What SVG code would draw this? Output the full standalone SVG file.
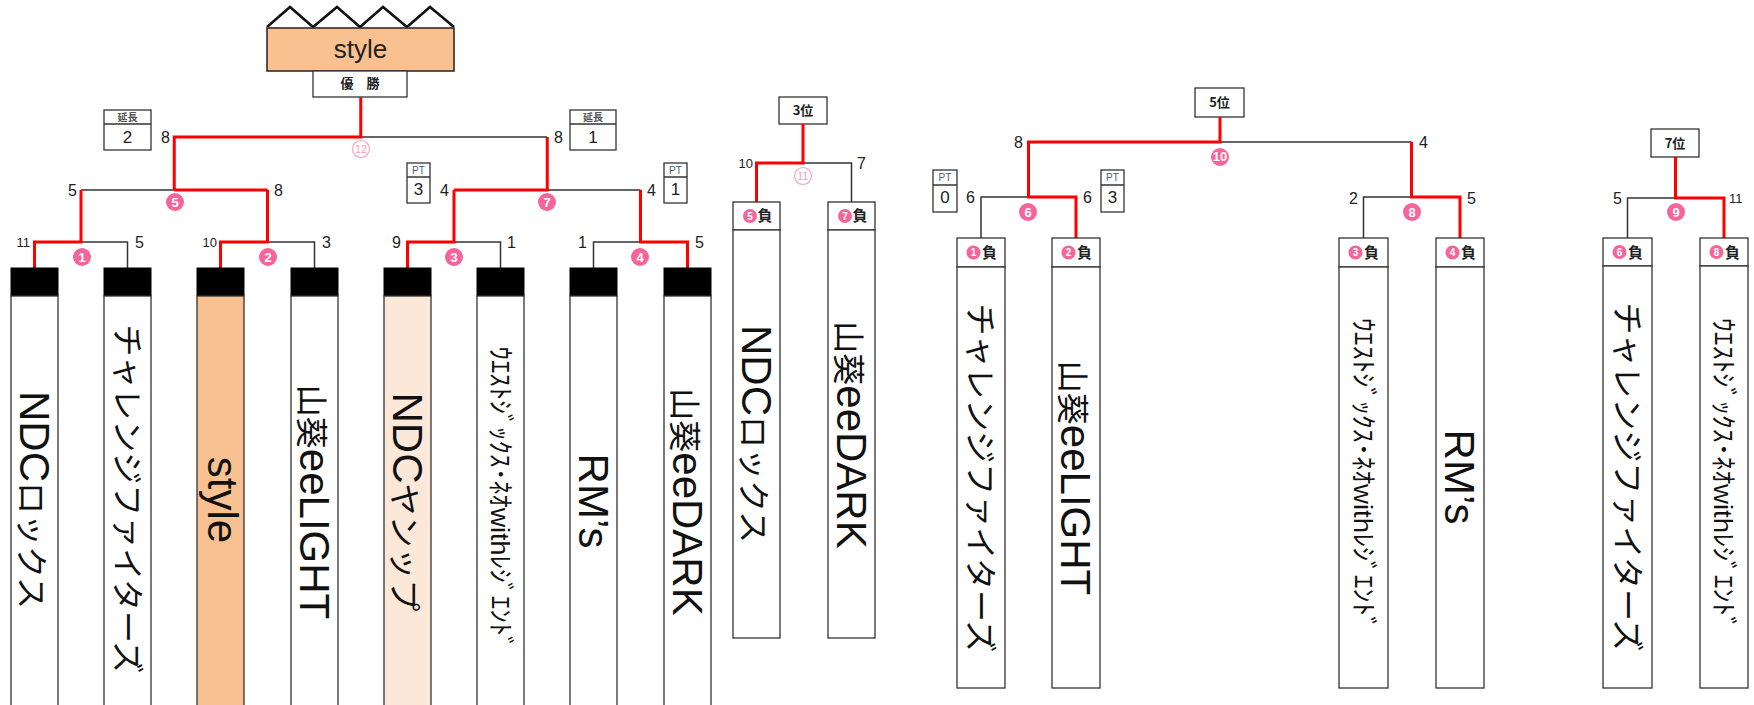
<svg xmlns="http://www.w3.org/2000/svg" width="1754" height="705" viewBox="0 0 1754 705">
<defs>
<style>
.ln{fill:none;stroke:#333;stroke-width:1.5}
.rd{fill:none;stroke:#FF0000;stroke-width:3}
.bx{fill:#fff;stroke:#333;stroke-width:1.3}
.hd{fill:#000;stroke:#000;stroke-width:1}
.sc{font-family:"Liberation Sans",sans-serif;font-size:16px;fill:#222}
.s2{font-size:13px}
.e{text-anchor:end}
.nm{font-family:"Liberation Sans","Noto Sans CJK JP",sans-serif;font-size:42px;fill:#111;text-anchor:middle}
.jp{font-family:"Noto Sans CJK JP",sans-serif;font-size:32px}
.sm{font-family:"Liberation Sans","Noto Sans CJK JP",sans-serif;font-size:26px;fill:#111;text-anchor:middle}
.pk{fill:#F7649A}
.pkt{font-family:"Liberation Sans",sans-serif;font-size:13px;font-weight:bold;fill:#fff;text-anchor:middle}
.pks{font-family:"Liberation Sans",sans-serif;font-size:10px;font-weight:bold;fill:#fff;text-anchor:middle}
.lp{fill:#fff;stroke:#FFA3BF;stroke-width:1.2}
.lpt{font-family:"Liberation Sans",sans-serif;font-size:11px;fill:#FF9DBA;text-anchor:middle}
.hdr{font-family:"Noto Sans CJK JP",sans-serif;font-size:13px;font-weight:bold;fill:#222;text-anchor:middle}
.neg{font-family:"Noto Sans CJK JP",sans-serif;font-size:15px;font-weight:bold;fill:#222;text-anchor:middle}
.tiny{font-family:"Noto Sans CJK JP",sans-serif;font-size:10px;font-weight:bold;fill:#555;text-anchor:middle}
.pt{font-family:"Liberation Sans",sans-serif;font-size:10px;fill:#4A5E7E;text-anchor:middle}
.val{font-family:"Liberation Sans",sans-serif;font-size:17px;fill:#222;text-anchor:middle}
</style>
</defs>
<rect x="0" y="0" width="1754" height="705" fill="#fff"/>

<!-- champion -->
<g id="champion">
<polyline points="267,27 290,7 313,27 337,7 360,27 383,7 407,27 430,7 454,27" fill="none" stroke="#111" stroke-width="2.5"/>
<rect x="267" y="28" width="187" height="43" fill="#F8C18F" stroke="#222" stroke-width="1.5"/>
<text x="360.5" y="58" font-family="Liberation Sans, sans-serif" font-size="26" fill="#222" text-anchor="middle">style</text>
<rect x="313" y="71" width="94" height="26" fill="#fff" stroke="#333" stroke-width="1.3"/>
<text x="360" y="88" class="hdr" font-size="12">優　勝</text>
</g>

<!-- extra boxes -->
<g id="ext-left"><rect class="bx" x="104" y="110" width="47" height="40"/><line class="ln" x1="104" y1="124" x2="151" y2="124"/><text class="tiny" x="127.5" y="121">延長</text><text class="val" x="127.5" y="143">2</text></g>
<g id="ext-right"><rect class="bx" x="570" y="110" width="46" height="40"/><line class="ln" x1="570" y1="124" x2="616" y2="124"/><text class="tiny" x="593" y="121">延長</text><text class="val" x="593" y="143">1</text></g>
<g id="pt-m7-left"><rect class="bx" x="407" y="163" width="23" height="40"/><line class="ln" x1="407" y1="177" x2="430" y2="177"/><text class="pt" x="418.5" y="174">PT</text><text class="val" x="418.5" y="195">3</text></g>
<g id="pt-m7-right"><rect class="bx" x="664" y="163" width="23" height="40"/><line class="ln" x1="664" y1="177" x2="687" y2="177"/><text class="pt" x="675.5" y="174">PT</text><text class="val" x="675.5" y="195">1</text></g>
<g id="pt-m6-left"><rect class="bx" x="933" y="170" width="24" height="42"/><line class="ln" x1="933" y1="185" x2="957" y2="185"/><text class="pt" x="945" y="181">PT</text><text class="val" x="945" y="203">0</text></g>
<g id="pt-m6-right"><rect class="bx" x="1101" y="170" width="23" height="42"/><line class="ln" x1="1101" y1="185" x2="1124" y2="185"/><text class="pt" x="1112.5" y="181">PT</text><text class="val" x="1112.5" y="203">3</text></g>

<!-- place boxes -->
<g id="place3"><rect class="bx" x="779" y="97" width="48" height="27"/><text class="hdr" x="803" y="115">3位</text></g>
<g id="place5"><rect class="bx" x="1195" y="88" width="49" height="29"/><text class="hdr" x="1219.5" y="107">5位</text></g>
<g id="place7"><rect class="bx" x="1651" y="129" width="48" height="28"/><text class="hdr" x="1675" y="148">7位</text></g>

<!-- connectors -->
<g id="connectors">
<path class="ln" d="M81,242 H127.5 V268 M267.5,242 H314.5 V268 M454,242 H500.5 V268 M593.5,268 V242 H640.5 M81,190 H174.25 M547.25,190 H640.5 M360.75,137 H547.25"/>
<path class="rd" d="M34.5,268 V242 H81 V190 M220.5,268 V242 H267.5 V190 M407.5,268 V242 H454 V190 M640.5,190 V242 H687.5 V268 M174.25,190 H267.5 M174.25,190 V137 H360.75 V97 M454,190 H547.25 V137"/>
<path class="ln" d="M803,163 H851.5 V202"/>
<path class="rd" d="M803,124 V163 H756.5 V202"/>
<path class="ln" d="M1220,142 H1411.5 M981,238 V197 H1028.5 M1363.5,238 V197 H1411.5"/>
<path class="rd" d="M1220,117 V142 H1028.5 V197 H1076 V238 M1411.5,142 V197 H1460 V238"/>
<path class="ln" d="M1627.5,238 V198 H1675.5"/>
<path class="rd" d="M1675.5,157 V198 H1724 V238"/>
</g>

<!-- scores -->
<g id="scores">
<text class="sc s2 e" x="30" y="247">11</text>
<text class="sc" x="135" y="248">5</text>
<text class="sc s2 e" x="217" y="247">10</text>
<text class="sc" x="322" y="248">3</text>
<text class="sc e" x="401" y="248">9</text>
<text class="sc" x="507" y="248">1</text>
<text class="sc e" x="587" y="248">1</text>
<text class="sc" x="695" y="248">5</text>
<text class="sc e" x="77" y="196">5</text>
<text class="sc" x="274" y="196">8</text>
<text class="sc e" x="449" y="196">4</text>
<text class="sc" x="647" y="196">4</text>
<text class="sc e" x="170" y="143">8</text>
<text class="sc" x="554" y="143">8</text>
<text class="sc s2 e" x="753" y="168">10</text>
<text class="sc" x="857" y="169">7</text>
<text class="sc e" x="1023" y="148">8</text>
<text class="sc" x="1419" y="148">4</text>
<text class="sc e" x="975" y="203">6</text>
<text class="sc" x="1083" y="203">6</text>
<text class="sc e" x="1358" y="203.5">2</text>
<text class="sc" x="1467" y="203.5">5</text>
<text class="sc e" x="1622" y="203.5">5</text>
<text class="sc s2" x="1729" y="203">11</text>
</g>

<!-- match numbers -->
<g id="match-numbers">
<circle class="pk" cx="82" cy="257" r="9"/><text class="pkt" x="82" y="261.5">1</text>
<circle class="pk" cx="268" cy="257" r="9"/><text class="pkt" x="268" y="261.5">2</text>
<circle class="pk" cx="454" cy="257" r="9"/><text class="pkt" x="454" y="261.5">3</text>
<circle class="pk" cx="640" cy="257" r="9"/><text class="pkt" x="640" y="261.5">4</text>
<circle class="pk" cx="175" cy="202" r="9"/><text class="pkt" x="175" y="206.5">5</text>
<circle class="pk" cx="547" cy="202" r="9"/><text class="pkt" x="547" y="206.5">7</text>
<circle class="lp" cx="361" cy="149" r="8.5"/><text class="lpt" x="361" y="153">12</text>
<circle class="lp" cx="803" cy="176" r="8.5"/><text class="lpt" x="803" y="180">11</text>
<circle class="pk" cx="1028" cy="212" r="9"/><text class="pkt" x="1028" y="216.5">6</text>
<circle class="pk" cx="1412" cy="212" r="9"/><text class="pkt" x="1412" y="216.5">8</text>
<circle class="pk" cx="1220" cy="157" r="9"/><text class="pkt" x="1220" y="161" font-size="10">10</text>
<circle class="pk" cx="1676" cy="212" r="9"/><text class="pkt" x="1676" y="216.5">9</text>
</g>

<!-- main bracket teams -->
<g id="team1"><rect class="hd" x="11" y="268" width="47" height="28"/><rect class="bx" x="11" y="296" width="47" height="420"/><text class="nm" transform="translate(34.5,500) rotate(90)" y="15">NDC<tspan class="jp">ロックス</tspan></text></g>
<g id="team2"><rect class="hd" x="104" y="268" width="47" height="28"/><rect class="bx" x="104" y="296" width="47" height="420"/><text class="nm jp" transform="translate(127.5,499) rotate(90)" y="12">チャレンジファイターズ</text></g>
<g id="team3"><rect class="hd" x="197" y="268" width="47" height="28"/><rect class="bx" x="197" y="296" width="47" height="420" style="fill:#F8C18F"/><text class="nm" transform="translate(220.5,500) rotate(90)" y="13">style</text></g>
<g id="team4"><rect class="hd" x="291" y="268" width="47" height="28"/><rect class="bx" x="291" y="296" width="47" height="420"/><text class="nm" transform="translate(314.5,502) rotate(90)" y="15"><tspan class="jp">山葵</tspan>eeLIGHT</text></g>
<g id="team5"><rect class="hd" x="384" y="268" width="47" height="28"/><rect class="bx" x="384" y="296" width="47" height="420" style="fill:#FCE8D8"/><text class="nm" transform="translate(407.5,502) rotate(90)" y="15">NDC<tspan class="jp">ヤンップ</tspan></text></g>
<g id="team6"><rect class="hd" x="477" y="268" width="47" height="28"/><rect class="bx" x="477" y="296" width="47" height="420"/><text class="sm" transform="translate(500.5,498) rotate(90)" y="10" textLength="303" lengthAdjust="spacingAndGlyphs">ｳｴｽﾄｼﾞｯｸｽ･ﾈｵwithﾚｼﾞｴﾝﾄﾞ</text></g>
<g id="team7"><rect class="hd" x="570" y="268" width="47" height="28"/><rect class="bx" x="570" y="296" width="47" height="420"/><text class="nm" transform="translate(593.5,501) rotate(90)" y="15">RM’s</text></g>
<g id="team8"><rect class="hd" x="664" y="268" width="47" height="28"/><rect class="bx" x="664" y="296" width="47" height="420"/><text class="nm" transform="translate(687.5,502) rotate(90)" y="15"><tspan class="jp">山葵</tspan>eeDARK</text></g>

<!-- 3rd place -->
<g id="loser5"><rect class="bx" x="733" y="202" width="47" height="28"/><circle class="pk" cx="750" cy="216" r="7"/><text class="pks" x="750" y="219.5">5</text><text class="neg" x="765" y="221">負</text><rect class="bx" x="733" y="230" width="47" height="408"/><text class="nm" transform="translate(756.5,434) rotate(90)" y="15">NDC<tspan class="jp">ロックス</tspan></text></g>
<g id="loser7"><rect class="bx" x="828" y="202" width="47" height="28"/><circle class="pk" cx="845" cy="216" r="7"/><text class="pks" x="845" y="219.5">7</text><text class="neg" x="860" y="221">負</text><rect class="bx" x="828" y="230" width="47" height="408"/><text class="nm" transform="translate(851.5,435) rotate(90)" y="15"><tspan class="jp">山葵</tspan>eeDARK</text></g>

<!-- 5th place -->
<g id="loser1"><rect class="bx" x="957" y="238" width="48" height="29"/><circle class="pk" cx="973.5" cy="252.5" r="7"/><text class="pks" x="973.5" y="256">1</text><text class="neg" x="989.5" y="258">負</text><rect class="bx" x="957" y="267" width="48" height="421"/><text class="nm jp" transform="translate(981,478) rotate(90)" y="12">チャレンジファイターズ</text></g>
<g id="loser2"><rect class="bx" x="1052" y="238" width="48" height="29"/><circle class="pk" cx="1068.5" cy="252.5" r="7"/><text class="pks" x="1068.5" y="256">2</text><text class="neg" x="1084.5" y="258">負</text><rect class="bx" x="1052" y="267" width="48" height="421"/><text class="nm" transform="translate(1076,478) rotate(90)" y="15"><tspan class="jp">山葵</tspan>eeLIGHT</text></g>
<g id="loser3"><rect class="bx" x="1339" y="238" width="49" height="29"/><circle class="pk" cx="1355.5" cy="252.5" r="7"/><text class="pks" x="1355.5" y="256">3</text><text class="neg" x="1371.5" y="258">負</text><rect class="bx" x="1339" y="267" width="49" height="421"/><text class="sm" transform="translate(1363.5,474) rotate(90)" y="10" textLength="312" lengthAdjust="spacingAndGlyphs">ｳｴｽﾄｼﾞｯｸｽ･ﾈｵwithﾚｼﾞｴﾝﾄﾞ</text></g>
<g id="loser4"><rect class="bx" x="1436" y="238" width="48" height="29"/><circle class="pk" cx="1452.5" cy="252.5" r="7"/><text class="pks" x="1452.5" y="256">4</text><text class="neg" x="1468.5" y="258">負</text><rect class="bx" x="1436" y="267" width="48" height="421"/><text class="nm" transform="translate(1460,477) rotate(90)" y="15">RM’s</text></g>

<!-- 7th place -->
<g id="loser6"><rect class="bx" x="1603" y="238" width="49" height="28"/><circle class="pk" cx="1619.5" cy="252" r="7"/><text class="pks" x="1619.5" y="255.5">6</text><text class="neg" x="1635.5" y="257.5">負</text><rect class="bx" x="1603" y="266" width="49" height="422"/><text class="nm jp" transform="translate(1627.5,477) rotate(90)" y="12">チャレンジファイターズ</text></g>
<g id="loser8"><rect class="bx" x="1700" y="238" width="48" height="28"/><circle class="pk" cx="1716.5" cy="252" r="7"/><text class="pks" x="1716.5" y="255.5">8</text><text class="neg" x="1732.5" y="257.5">負</text><rect class="bx" x="1700" y="266" width="48" height="422"/><text class="sm" transform="translate(1724,474) rotate(90)" y="10" textLength="312" lengthAdjust="spacingAndGlyphs">ｳｴｽﾄｼﾞｯｸｽ･ﾈｵwithﾚｼﾞｴﾝﾄﾞ</text></g>
</svg>
